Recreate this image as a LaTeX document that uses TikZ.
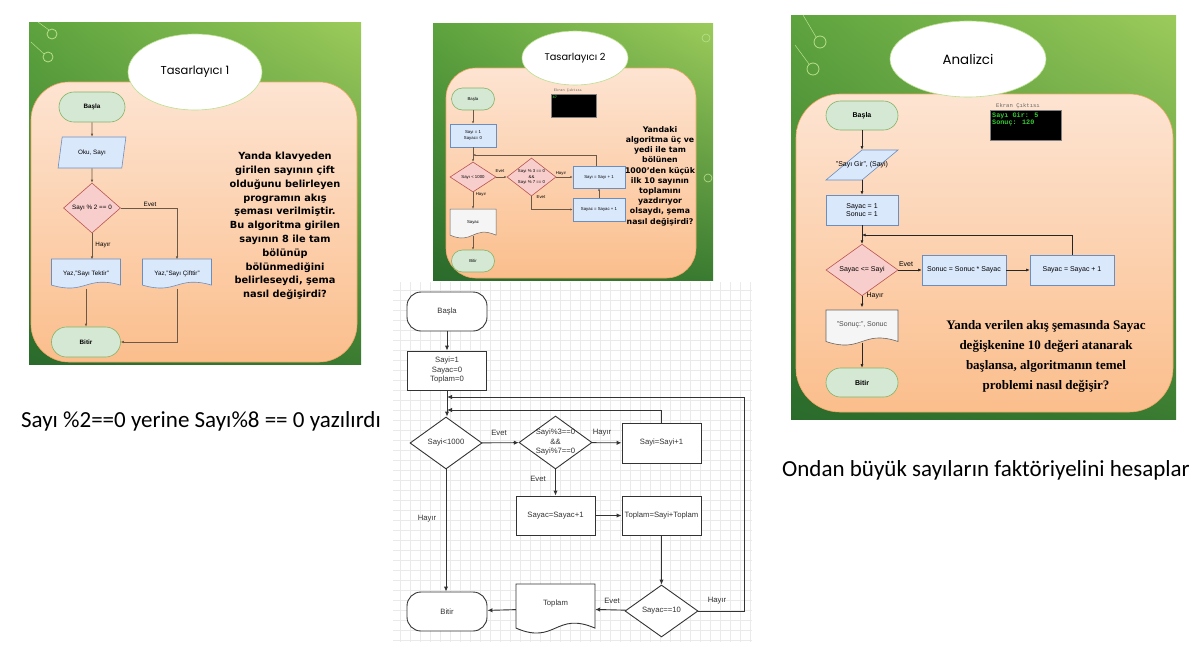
\documentclass[tikz,border=0pt]{standalone}
\usepackage{fontspec}
\setmainfont{Liberation Sans}
\newfontfamily\titlefont{Poppins}
\newfontfamily\askfont{DejaVu Sans}
\newfontfamily\askserif{Liberation Serif}
\newfontfamily\notefont{Carlito}
\newfontfamily\screenfont{Liberation Mono}
\usetikzlibrary{shapes.geometric,arrows.meta,positioning,shadings}

\definecolor{leafdark}{HTML}{2A6A2B}
\definecolor{leafmid}{HTML}{5DA33E}
\definecolor{leaflight}{HTML}{9CCB5B}
\definecolor{leafpale}{HTML}{B9E08D}
\definecolor{cardtop}{HTML}{FDE4D2}
\definecolor{cardbot}{HTML}{FBBE8C}
\definecolor{cardedge}{HTML}{F2A766}
\definecolor{termfill}{HTML}{D5E8D4}
\definecolor{termedge}{HTML}{82B366}
\definecolor{boxfill}{HTML}{DAE8FC}
\definecolor{boxedge}{HTML}{6C8EBF}
\definecolor{testfill}{HTML}{F8CECC}
\definecolor{testedge}{HTML}{B85450}
\definecolor{docfill}{HTML}{F5F5F5}
\definecolor{docedge}{HTML}{666666}
\definecolor{linkbrown}{HTML}{6B5846}
\definecolor{gridline}{HTML}{EAEAEA}
\definecolor{inkgray}{HTML}{333333}
\definecolor{screengreen}{HTML}{33CC33}

% wavy document outline: centre x, centre y, width, height, style
\newcommand{\wavedoc}[5]{%
  \path[#5] (#1-#3/2,#2-#4/2) -- (#1+#3/2,#2-#4/2) -- (#1+#3/2,#2+0.4*#4)
    .. controls (#1,#2+0.05*#4) and (#1,#2+0.75*#4) .. (#1-#3/2,#2+0.4*#4) -- cycle;}
% text that may run over its shape
\newcommand{\tight}[1]{\makebox[0pt]{\begin{tabular}{@{}c@{}}#1\end{tabular}}}

\begin{document}
\begin{tikzpicture}[x=1pt,y=-1pt,
  term/.style={rectangle,draw=termedge,fill=termfill,line width=0.6pt},
  proc/.style={rectangle,draw=boxedge,fill=boxfill,line width=0.6pt,align=center,inner sep=0pt},
  test/.style={diamond,draw=testedge,fill=testfill,line width=0.6pt,inner sep=0pt,align=center},
  io/.style={trapezium,trapezium stretches=true,draw=boxedge,fill=boxfill,line width=0.6pt,inner sep=0pt},
  doctext/.style={rectangle,inner sep=0pt,align=center},
  title/.style={ellipse,fill=white,draw=leafpale,line width=0.6pt},
  card/.style={draw=cardedge,line width=0.6pt,top color=cardtop,bottom color=cardbot},
  slide/.style={upper left=leafmid,upper right=leaflight,lower left=leafdark,lower right=leafdark!70!leafmid},
  tag/.style={inner sep=0pt},
  tiny1/.style={font=\fontsize{6.3}{7.6}\selectfont},
  tiny2/.style={font=\fontsize{4.3}{5.2}\selectfont},
  tiny3/.style={font=\fontsize{7}{8.4}\selectfont},
  link1/.style={-{Latex[length=3pt,width=2.6pt]},draw=linkbrown,line width=0.6pt},
  link2/.style={-{Latex[length=2.4pt,width=2.2pt]},draw=linkbrown,line width=0.5pt},
  link3/.style={-{Latex[length=3.6pt,width=3pt]},draw=black!85,line width=0.6pt},
  sterm/.style={rectangle,draw=inkgray,fill=white,line width=0.9pt,rounded corners=14pt,
    minimum width=80pt,minimum height=39pt,font=\fontsize{7.7}{9.5}\selectfont,text=inkgray},
  sproc/.style={rectangle,draw=inkgray,fill=white,line width=0.9pt,align=center,inner sep=0pt,
    minimum width=79pt,minimum height=39pt,font=\fontsize{7.7}{9.5}\selectfont,text=inkgray},
  stest/.style={diamond,draw=inkgray,fill=white,line width=0.9pt,align=center,inner sep=0pt,
    minimum width=73pt,minimum height=52pt,font=\fontsize{7.7}{9.5}\selectfont,text=inkgray},
  slink/.style={-{Latex[length=5pt,width=4.4pt]},draw=inkgray,line width=0.9pt},
  stag/.style={inner sep=0pt,font=\fontsize{7.7}{9.5}\selectfont,text=inkgray}]

  \useasboundingbox (0,0) rectangle (1203,670);
  \fill[white] (0,0) rectangle (1203,670);

  % ---------- Tasarlayici 1 ----------
  \shade[slide] (29,22) rectangle (361,364);
  \draw[leafpale,line width=0.8pt] (52,34) circle[radius=5pt] (48,57) circle[radius=5pt];
  \draw[leafpale,line width=0.5pt] (38,22) -- (49,30) (31,42) -- (44,54);
  \path[card,rounded corners=38pt] (31,82) rectangle (357,362);
  \node[title,minimum width=134pt,minimum height=76pt,font=\titlefont\fontsize{11.5}{13}\selectfont] (t1) at (195,72) {Tasarlayıcı 1};

  \node[term,minimum width=66pt,minimum height=30pt,rounded corners=15pt,tiny1] (b1) at (92,107) {\bfseries Başla};
  \node[io,trapezium left angle=72,trapezium right angle=108,minimum width=68pt,minimum height=31pt,tiny1] (r1) at (92,152.5) {Oku, Sayı};
  \node[test,minimum width=57pt,minimum height=50pt,tiny1] (d1) at (92,208) {Sayı \% 2 == 0};
  \wavedoc{86}{273.5}{69}{29}{fill=boxfill,draw=boxedge,line width=0.6pt}
  \node[doctext,minimum width=69pt,minimum height=29pt,tiny1] (yl1) at (86,274) {Yaz,"Sayı Tektir"};
  \wavedoc{177}{273.5}{69}{29}{fill=boxfill,draw=boxedge,line width=0.6pt}
  \node[doctext,minimum width=69pt,minimum height=29pt,tiny1] (yr1) at (177,274) {Yaz,"Sayı Çifttir"};
  \node[term,minimum width=69pt,minimum height=30pt,rounded corners=15pt,tiny1] (e1) at (86,342) {\bfseries Bitir};
  \node[tag,tiny1] (ev1) at (150,204) {Evet};
  \node[tag,tiny1] (hy1) at (103,245) {Hayır};

  \path[link1] (b1) -- (r1);
  \path[link1] (r1) -- (d1);
  \path[link1] (d1.east) -| (yr1.north);
  \path[link1] (d1.south) -- (d1.south |- yl1.north);
  \path[link1] (yl1.south) -- (e1.north);
  \path[link1] (yr1.south) |- (e1.east);

  \node[align=center,font=\askfont\bfseries\fontsize{9.8}{13.8}\selectfont] (q1) at (285,226)
    {Yanda klavyeden\\girilen sayının çift\\olduğunu belirleyen\\programın akış\\şeması verilmiştir.\\Bu algoritma girilen\\sayının 8 ile tam\\bölünüp\\bölünmediğini\\belirleseydi, şema\\nasıl değişirdi?};

  % ---------- Tasarlayici 2 ----------
  \shade[slide] (433,23) rectangle (713,280);
  \draw[leafpale,line width=0.6pt] (706,38) circle[radius=4pt] (708,178) circle[radius=4pt];
  \path[card,rounded corners=30pt] (446,68) rectangle (696,278);
  \node[title,minimum width=106pt,minimum height=54pt,font=\titlefont\fontsize{9.8}{11}\selectfont] (t2) at (575,58) {Tasarlayıcı 2};

  \node[tag,font=\screenfont\fontsize{3.6}{4}\selectfont,text=black!60] (sl2) at (568,91) {Ekran Çıktısı};
  \node[fill=black,draw=black!50,line width=0.4pt,minimum width=45pt,minimum height=23pt,inner sep=0pt] (sc2) at (573.5,105.5) {};
  \node[tag,anchor=north west,font=\screenfont\bfseries\fontsize{3.6}{4}\selectfont,text=screengreen] (so2) at (552.5,96) {47};

  \node[term,minimum width=43pt,minimum height=22pt,rounded corners=11pt,tiny2] (b2) at (473,99) {Başla};
  \node[proc,minimum width=46pt,minimum height=23pt,tiny2] (i2) at (473,135.5) {Sayı = 1\\Sayac= 0};
  \coordinate (j2) at (473,155);
  \node[test,minimum width=46pt,minimum height=30pt,tiny2] (da2) at (473,177) {Sayı < 1000};
  \node[test,minimum width=49pt,minimum height=38pt,tiny2] (db2) at (531.5,177) {\tight{Sayı \% 3 == 0\\\&\&\\Sayı \% 7 == 0}};
  \node[proc,minimum width=52pt,minimum height=22pt,tiny2] (inc2) at (599,177) {Sayı = Sayı + 1};
  \node[proc,minimum width=52pt,minimum height=23pt,tiny2] (cnt2) at (599,209.5) {Sayac = Sayac + 1};
  \wavedoc{473}{223.5}{46}{29}{fill=docfill,draw=docedge,line width=0.5pt}
  \node[doctext,minimum width=46pt,minimum height=27pt,tiny2] (s2) at (473,222.5) {Sayac};
  \node[term,minimum width=43pt,minimum height=22pt,rounded corners=11pt,tiny2] (e2) at (473,261) {Bitir};
  \node[tag,tiny2] (ev2a) at (500,171) {Evet};
  \node[tag,tiny2] (hy2a) at (561,173) {Hayır};
  \node[tag,tiny2] (ev2b) at (541,197) {Evet};
  \node[tag,tiny2] (hy2b) at (481,194) {Hayır};

  \path[link2] (b2) -- (i2);
  \path[link2] (i2) -- (da2);
  \path[link2] ([xshift=-3pt]inc2.north) |- (j2);
  \path[link2] (da2) -- (db2);
  \path[link2] (db2) -- (inc2);
  \path[link2] (db2.south) |- (cnt2.west);
  \path[link2] (cnt2) -- (inc2);
  \path[link2] (da2) -- (s2);
  \path[link2] (s2) -- (e2);

  \node[align=center,font=\askfont\bfseries\fontsize{7.8}{10.2}\selectfont] (q2) at (660,176)
    {Yandaki\\algoritma üç ve\\yedi ile tam\\bölünen\\1000’den küçük\\ilk 10 sayının\\toplamını\\yazdırıyor\\olsaydı, şema\\nasıl değişirdi?};

  % ---------- Analizci ----------
  \shade[slide] (791,15) rectangle (1176,419);
  \draw[leafpale,line width=0.8pt] (820,42) circle[radius=6pt] (813,69) circle[radius=6pt];
  \draw[leafpale,line width=0.5pt] (803,15) -- (816,37) (795,45) -- (809,64);
  \path[card,rounded corners=44pt] (796,94) rectangle (1173,412);
  \node[title,minimum width=156pt,minimum height=76pt,font=\titlefont\fontsize{13.4}{15}\selectfont] (t3) at (968,59) {Analizci};

  \node[tag,font=\screenfont\fontsize{5.6}{6}\selectfont,text=black!60] (sl3) at (1018,106) {Ekran Çıktısı};
  \node[fill=black,draw=black!50,line width=0.5pt,minimum width=71pt,minimum height=30pt,inner sep=0pt] (sc3) at (1025.5,125) {};
  \node[tag,anchor=north west,align=left,font=\screenfont\bfseries\fontsize{6.8}{7.4}\selectfont,text=screengreen] (so3) at (992,112) {Sayı Gir: 5\\Sonuç: 120};

  \node[term,minimum width=72pt,minimum height=29pt,rounded corners=14.5pt,tiny3] (b3) at (862,115.5) {\bfseries Başla};
  \node[io,trapezium left angle=68,trapezium right angle=112,minimum width=72pt,minimum height=30pt,tiny3] (r3) at (862,165) {\tight{"Sayı Gir", (Sayi)}};
  \node[proc,minimum width=72pt,minimum height=30pt,tiny3] (i3) at (862,210) {Sayac = 1\\Sonuc = 1};
  \coordinate (j3) at (862,235);
  \node[test,minimum width=72pt,minimum height=40pt,tiny3] (d3) at (862,270) {Sayac <= Sayi};
  \node[proc,minimum width=84pt,minimum height=30pt,tiny3] (m3) at (964,270) {Sonuc = Sonuc * Sayac};
  \node[proc,minimum width=84pt,minimum height=30pt,tiny3] (c3) at (1072,270) {Sayac = Sayac + 1};
  \wavedoc{862}{327.5}{72}{35}{fill=docfill,draw=docedge,line width=0.6pt}
  \node[doctext,minimum width=72pt,minimum height=35pt,tiny3,text=black!70] (o3) at (862,325) {"Sonuç:", Sonuc};
  \node[term,minimum width=72pt,minimum height=29pt,rounded corners=14.5pt,tiny3] (e3) at (862,382.5) {\bfseries Bitir};
  \node[tag,tiny3] (ev3) at (906,264) {Evet};
  \node[tag,tiny3] (hy3) at (875,296) {Hayır};

  \path[link3] (b3) -- (r3);
  \path[link3] (r3) -- (i3);
  \path[link3] (i3) -- (d3);
  \path[link3] (c3.north) |- (j3);
  \path[link3] (d3) -- (m3);
  \path[link3] (m3) -- (c3);
  \path[link3] (d3) -- (o3);
  \path[link3] (o3) -- (e3);

  \node[align=center,font=\askserif\bfseries\fontsize{13}{20}\selectfont] (q3) at (1046,356)
    {Yanda verilen akış şemasında Sayac\\değişkenine 10 değeri atanarak\\başlansa, algoritmanın temel\\problemi nasıl değişir?};

  % ---------- answers ----------
  \node[font=\notefont\fontsize{23}{27}\selectfont] (n1) at (201,421) {Sayı \%2==0 yerine Sayı\%8 == 0 yazılırdı};
  \node[font=\notefont\fontsize{23}{27}\selectfont] (n3) at (986,470) {Ondan büyük sayıların faktöriyelini hesaplar};

  % ---------- revised chart ----------
  \draw[gridline,line width=0.5pt,step=10pt] (393,642) grid (752,282);

  \node[sterm] (sb) at (447,311.5) {Başla};
  \node[sproc] (si) at (447,370.5) {Sayi=1\\Sayac=0\\Toplam=0};
  \coordinate (jo) at (447,397);
  \coordinate (ji) at (447,410);
  \coordinate (so) at (744,397);
  \node[stest,minimum width=72pt] (sd1) at (446,443) {Sayi<1000};
  \node[stest,minimum height=53pt] (sd2) at (555.5,442.5) {\tight{Sayi\%3==0\\\&\&\\Sayi\%7==0}};
  \node[sproc,minimum height=40pt] (sinc) at (661.5,443) {Sayi=Sayi+1};
  \node[sproc] (scnt) at (555.5,515.5) {Sayac=Sayac+1};
  \node[sproc] (ssum) at (661.5,515.5) {\tight{Toplam=Sayi+Toplam}};
  \node[stest] (sd3) at (661.5,611) {Sayac==10};
  \wavedoc{555.5}{608.5}{79}{49}{fill=white,draw=inkgray,line width=0.9pt}
  \node[doctext,minimum width=79pt,minimum height=49pt,font=\fontsize{7.7}{9.5}\selectfont,text=inkgray] (sdoc) at (555.5,608.5) {\raisebox{3pt}[0pt][0pt]{Toplam}};
  \node[sterm] (se) at (447,611.5) {Bitir};
  \node[stag] (sev1) at (499,433) {Evet};
  \node[stag] (shy1) at (602,433) {Hayır};
  \node[stag] (sev2) at (538,479) {Evet};
  \node[stag] (sev3) at (612,601) {Evet};
  \node[stag] (shy3) at (717,601) {Hayır};
  \node[stag] (shy4) at (427,519) {Hayır};

  \path[slink] (sb) -- (si);
  \path[slink] (si) -- (sd1.north -| si.south);
  \path[slink] (sd3.east) -| (so) -- (jo);
  \path[slink] (sinc.north) |- (ji);
  \path[slink] (sd1) -- (sd2);
  \path[slink] (sd2) -- (sinc);
  \path[slink] (sd2) -- (scnt);
  \path[slink] (scnt) -- (ssum);
  \path[slink] (ssum) -- (sd3);
  \path[slink] (sd3) -- (sdoc);
  \path[slink] (sdoc) -- (se);
  \path[slink] (sd1.south) -- (sd1.south |- se.north);
\end{tikzpicture}
\end{document}
